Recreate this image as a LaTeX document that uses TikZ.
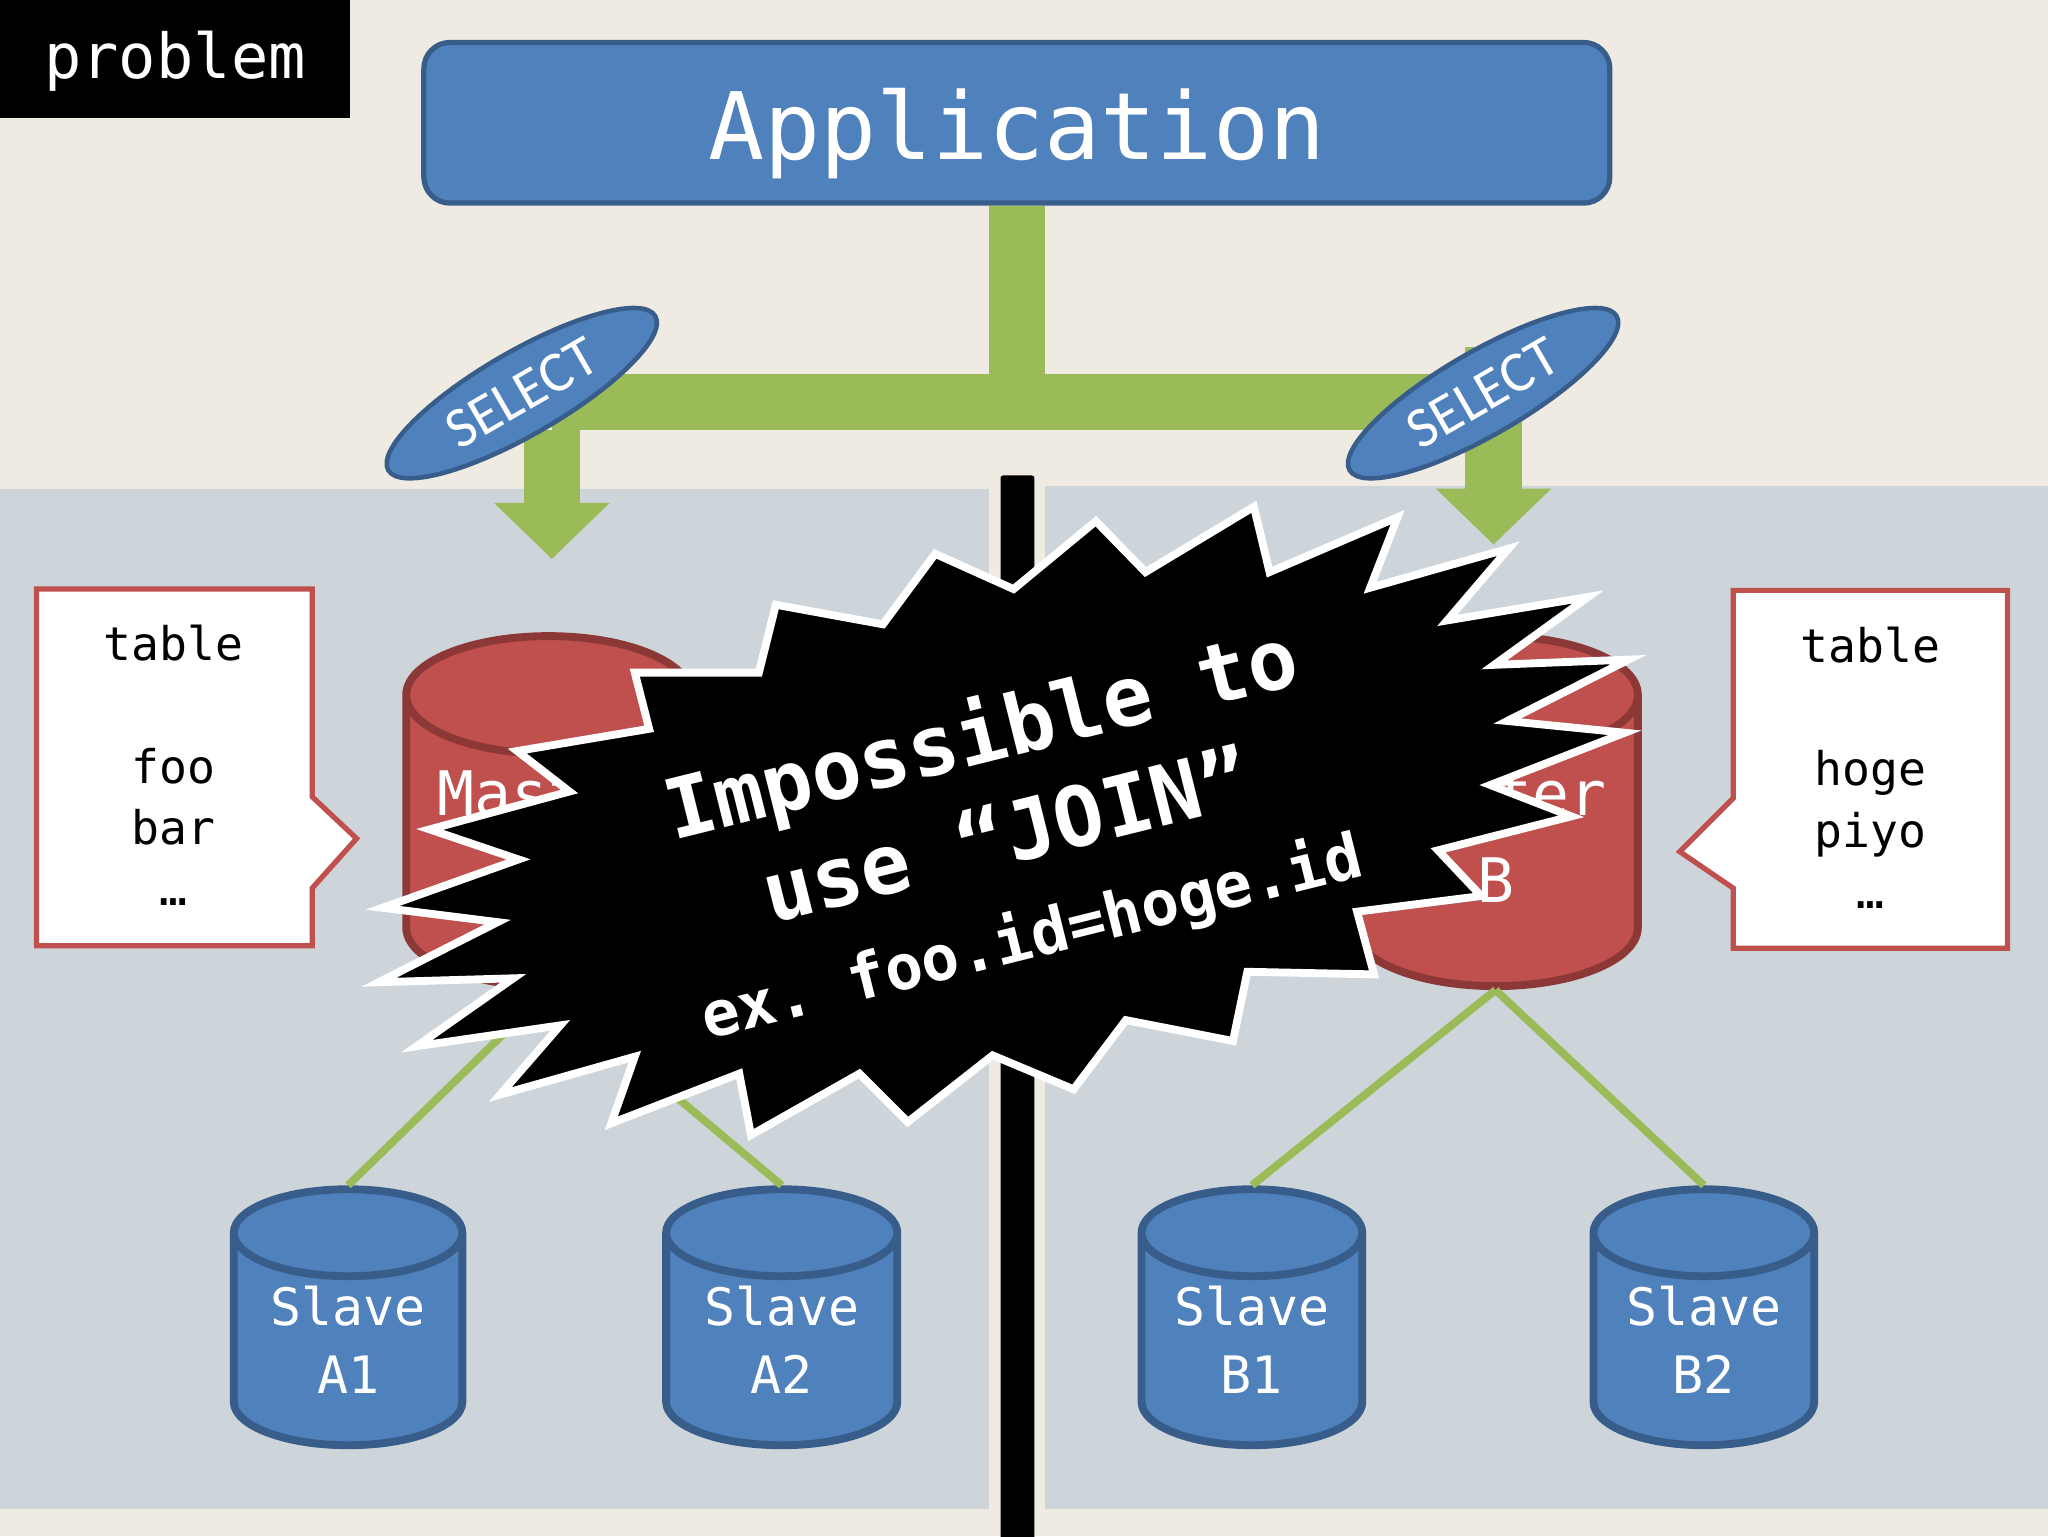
\documentclass[tikz,border=0pt]{standalone}
\usepackage{fontspec}
\setmainfont{Carlito}
\setmonofont{DejaVu Sans Mono}
\usetikzlibrary{shapes,arrows.meta,shadows,positioning}
\definecolor{paper}{HTML}{EFEBE2}
\definecolor{panelgray}{HTML}{CDD5DB}
\definecolor{boxblue}{HTML}{4F81BD}
\definecolor{boxblueline}{HTML}{385D8A}
\definecolor{dbred}{HTML}{C0504D}
\definecolor{dbredline}{HTML}{8C3836}
\definecolor{busgreen}{HTML}{9BBB59}
\tikzset{
  master/.style={cylinder, shape border rotate=90, aspect=0.53, draw=dbredline, fill=dbred, line width=6pt,
    minimum width=218pt, minimum height=268pt, inner sep=0pt, text=white, align=center, anchor=south,
    text depth=9pt, font=\ttfamily\fontsize{47}{67}\selectfont},
  slave/.style={cylinder, shape border rotate=90, aspect=0.56, draw=boxblueline, fill=boxblue, line width=6pt,
    minimum height=196pt, inner sep=0pt, text=white, align=center, anchor=south,
    text depth=2pt, font=\ttfamily\fontsize{39.5}{52}\selectfont},
  query/.style={ellipse, draw=boxblueline, fill=boxblue, line width=3.5pt, minimum width=236pt,
    minimum height=64pt, inner sep=0pt, rotate=30, text=white, font=\fontsize{44}{48}\selectfont},
  bus/.style={draw=busgreen, line width=43pt},
  bustip/.style={-{Triangle[width=86pt,length=43pt]}},
  replica/.style={draw=busgreen, line width=6pt},
  callout/.style={draw=dbred, fill=white, line width=4pt},
  calltext/.style={align=center, inner sep=0pt, font=\ttfamily\fontsize{35.5}{47}\selectfont},
  burst/.style={draw=white, fill=black, line width=6pt, miter limit=6,
    drop shadow={shadow xshift=2pt, shadow yshift=-2pt, opacity=0.35}}
}
\begin{document}
\begin{tikzpicture}[x=1pt,y=-1pt]
\useasboundingbox (0,0) rectangle (1568,1176);
\fill[paper] (0,0) rectangle (1568,1176);
\fill[panelgray] (0,374) rectangle (757,1155);
\fill[panelgray] (800,372) rectangle (1568,1155);
\fill[black, rounded corners=2pt] (766,364) rectangle (792,1190);

\node[fill=black, text=white, minimum width=268pt, minimum height=90pt, inner sep=0pt,
  font=\ttfamily\fontsize{47.5}{50}\selectfont] (problem) at (134,45) {\raisebox{-2pt}[\height][\depth]{problem}};
\node[draw=boxblueline, fill=boxblue, line width=4pt, rounded corners=20pt, minimum width=908pt,
  minimum height=123pt, inner sep=0pt, text=white, font=\ttfamily\fontsize{71.3}{75}\selectfont]
  (app) at (778.5,94) {\raisebox{-8pt}[\height][\depth]{Application}};

\coordinate (fork) at (778.5,307.5);
\coordinate (cornerL) at (422.5,307.5);
\coordinate (cornerR) at (1143.5,307.5);
\coordinate (stubR) at (1143.5,266);
\coordinate (tipL) at (422.5,428);
\coordinate (tipR) at (1143.5,417);
\draw[bus] (app.south) -- (fork);
\draw[bus] (cornerL) -- (cornerR);
\draw[bus, bustip] ([yshift=-21.5pt]cornerL) -- (tipL);
\draw[bus, bustip] (stubR) -- (tipR);

\node[master] (masterA) at (420,758) {Master\\A};
\node[master] (masterB) at (1145,758) {Master\\B};
\node[slave, minimum width=175pt] (slaveA1) at (266.5,1109.5) {Slave\\A1};
\node[slave, minimum width=177pt] (slaveA2) at (598.5,1109.5) {Slave\\A2};
\node[slave, minimum width=169pt] (slaveB1) at (958.5,1109.5) {Slave\\B1};
\node[slave, minimum width=169pt] (slaveB2) at (1304.5,1109.5) {Slave\\B2};

\draw[replica] (masterA.south) -- (slaveA1.north);
\draw[replica] (masterA.south) -- (slaveA2.north);
\draw[replica] (masterB.south) -- (slaveB1.north);
\draw[replica] (masterB.south) -- (slaveB2.north);

\node[query] (selectA) at (399.5,301) {SELECT};
\node[query] (selectB) at (1135.5,301) {SELECT};

\draw[callout] (28,451) -- (239,451) -- (239,610) -- (273,642) -- (239,680) -- (239,724) -- (28,724) -- cycle;
\draw[callout] (1327,452) -- (1537,452) -- (1537,726) -- (1327,726) -- (1327,680) -- (1286,652) -- (1327,611) -- cycle;
\node[calltext] (tableA) at (133,586) {table\\[0pt]\mbox{}\\foo\\bar\\…};
\node[calltext] (tableB) at (1432,588) {table\\[0pt]\mbox{}\\hoge\\piyo\\…};

\draw[burst] (716,424) -- (776,451) -- (839,399) -- (877,438) -- (960,388) -- (972,438)
  -- (1070,396) -- (1049,450) -- (1155,420) -- (1108,475) -- (1216,457) -- (1144,509)
  -- (1247,505) -- (1154,552) -- (1244,561) -- (1141,601) -- (1203,625) -- (1101,651)
  -- (1134,686) -- (1039,698) -- (1052,746) -- (955,744) -- (944,797) -- (862,781)
  -- (822,834) -- (760,808) -- (695,859) -- (658,822) -- (575,869) -- (566,822)
  -- (468,860) -- (486,809) -- (383,838) -- (429,785) -- (319,801) -- (393,749)
  -- (290,752) -- (381,706) -- (293,695) -- (397,658) -- (329,635) -- (436,606)
  -- (396,575) -- (497,558) -- (486,515) -- (581,515) -- (594,463) -- (676,478) -- cycle;
\node[rotate=14, align=center, text=white, inner sep=0pt, font=\ttfamily\bfseries\fontsize{63.5}{80}\selectfont]
  (impossible) at (770,638) {Impossible to\\use “JOIN”\\[-6pt]{\fontsize{48}{60}\selectfont ex. foo.id=hoge.id}};
\end{tikzpicture}
\end{document}
